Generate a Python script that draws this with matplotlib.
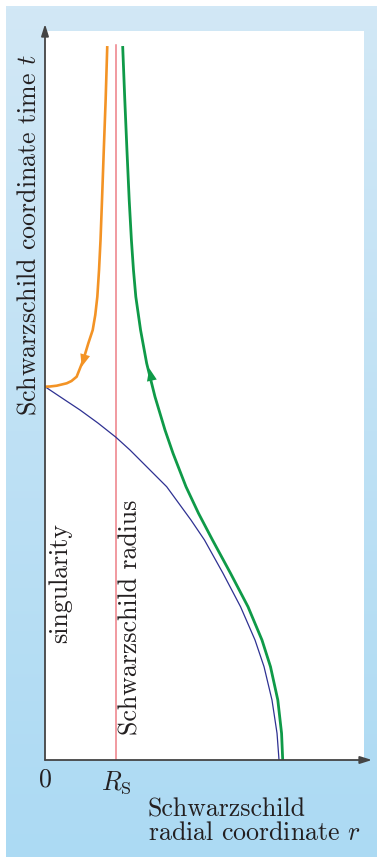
import numpy as np
import matplotlib.pyplot as plt

plt.rcParams['font.family'] = 'cmr10'
plt.rcParams['mathtext.fontset'] = 'cm'
plt.rcParams['axes.unicode_minus'] = False

# ---- data (r in units of R_S, t in the same scale) ----
rs = 1.0

orange_r = [0.877, 0.854, 0.828, 0.803, 0.782, 0.761, 0.737, 0.708, 0.672, 0.610,
            0.539, 0.446, 0.373, 0.306, 0.165, 0.070, 0.0]
orange_t = [10.056, 9.296, 8.592, 7.887, 7.324, 6.901, 6.525, 6.268, 6.056, 5.869,
            5.634, 5.399, 5.338, 5.306, 5.272, 5.261, 5.258]

green_r = [1.094, 1.124, 1.154, 1.186, 1.217, 1.246, 1.279, 1.346, 1.432, 1.549, 1.690,
           1.803, 1.986, 2.162, 2.359, 2.613, 2.859, 3.056, 3.176, 3.279, 3.332, 3.348]
green_t = [10.056, 9.296, 8.592, 7.887, 7.324, 6.901, 6.525, 6.056, 5.587, 5.117, 4.648,
           4.320, 3.849, 3.475, 3.099, 2.630, 2.159, 1.690, 1.314, 0.845, 0.376, 0.0]

blue_r = [0.0, 0.282, 0.493, 0.746, 1.0, 1.197, 1.338, 1.714, 2.056, 2.246, 2.507, 2.754,
          2.958, 3.085, 3.197, 3.268, 3.296]
blue_t = [5.258, 5.070, 4.930, 4.746, 4.545, 4.366, 4.225, 3.849, 3.380, 3.099, 2.630, 2.159,
          1.690, 1.314, 0.845, 0.376, 0.0]

rs_top = 10.07
x_max, y_max = 4.493, 10.268

W, H = 377, 858
fig = plt.figure(figsize=(W / 100, H / 100), dpi=100)

# blue panel with soft vertical gradient
bg = fig.add_axes([6 / W, 1 / H, 371 / W, 851 / H])
top = np.array([210, 232, 246]) / 255
bot = np.array([172, 218, 243]) / 255
g = np.linspace(0, 1, 256)[:, None]
grad = top[None, :] * (1 - g) + bot[None, :] * g
bg.imshow(grad[:, None, :], aspect='auto', extent=[0, 1, 0, 1])
bg.axis('off')

ax = fig.add_axes([45 / W, (H - 760) / H, (364 - 45) / W, (760 - 31) / H])
ax.set_facecolor('white')
ax.set_xlim(0, x_max)
ax.set_ylim(0, y_max)
for s in ax.spines.values():
    s.set_visible(False)
ax.set_xticks([])
ax.set_yticks([])

# axes with arrows
arrow_kw = dict(arrowstyle='-|>,head_length=0.7,head_width=0.22', color='#444444', lw=1.3,
                shrinkA=0, shrinkB=0)
ax.annotate('', xy=(0, (760 - 24) / 71), xytext=(0, 0), arrowprops=arrow_kw, annotation_clip=False)
ax.annotate('', xy=((372 - 45) / 71, 0), xytext=(0, 0), arrowprops=arrow_kw, annotation_clip=False)

ax.plot([rs, rs], [0, rs_top], color='#ee7f86', lw=1.1)
ax.plot(blue_r, blue_t, color='#2e3192', lw=0.9)
ax.plot(orange_r, orange_t, color='#f39325', lw=1.9, solid_capstyle='butt')
ax.plot(green_r, green_t, color='#0f9a48', lw=2.0, solid_capstyle='butt')

# direction arrows on the worldlines
head = dict(arrowstyle='-|>,head_length=0.9,head_width=0.36', lw=0, shrinkA=0, shrinkB=0)
ax.annotate('', xy=(0.517, 5.539), xytext=(0.585, 5.775),
            arrowprops=dict(color='#f39325', **head))
ax.annotate('', xy=(1.469, 5.517), xytext=(1.563, 5.070),
            arrowprops=dict(color='#0f9a48', **head))

fs = 18.6
ink = '#231f20'
ax.text(0, -0.113, '0', fontsize=fs, ha='center', va='top', color=ink)
ax.text(rs, -0.127, r'$R_\mathrm{S}$', fontsize=fs, ha='center', va='top', color=ink)
ax.text(0.211, 2.5, 'singularity', fontsize=fs, rotation=90, ha='center', va='center',
        color=ink)
ax.text(1.211, 2.014, 'Schwarzschild radius', fontsize=fs, rotation=90, ha='center',
        va='center', color=ink)
ax.text(-0.226, 7.40, r'Schwarzschild coordinate time $t$', fontsize=fs, rotation=90,
        ha='center', va='center', color=ink)
ax.text((148 - 45) / 71, -0.789, 'Schwarzschild', fontsize=fs, ha='left', va='baseline',
        color=ink)
ax.text((148 - 45) / 71, -1.127, r'radial coordinate $r$', fontsize=fs, ha='left',
        va='baseline', color=ink)

fig.savefig('out.png', dpi=100)
